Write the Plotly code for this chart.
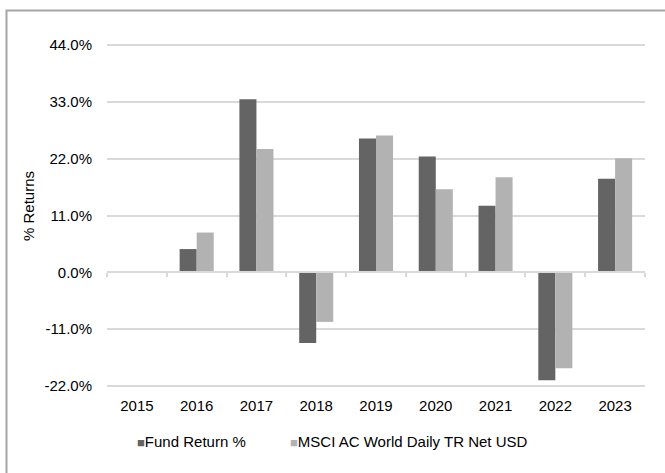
import plotly.graph_objects as go

years = ["2015", "2016", "2017", "2018", "2019", "2020", "2021", "2022", "2023"]
fund_returns = [None, 4.5, 33.5, -13.7, 25.9, 22.4, 12.9, -20.9, 18.1]
msci_returns = [None, 7.7, 23.9, -9.6, 26.5, 16.1, 18.4, -18.6, 22.1]
series_names = ["Fund Return %", "MSCI AC World Daily TR Net USD"]
series_colors = ["#646464", "#b2b2b2"]
y_ticks = [-22, -11, 0, 11, 22, 33, 44]
y_tick_labels = ["-22.0%", "-11.0%", "0.0%", "11.0%", "22.0%", "33.0%", "44.0%"]
y_range = [-22.4, 44.4]

FONT = "Liberation Sans, Arial, sans-serif"
fs = 15

# plot area: top 43, height 345 (so 44% sits at y=45 and -22% at y=386)
T, B, L, R = 43, 85, 107, 20
PH = 473 - T - B
PW = 665 - L - R

def px_x(p):
    return (p - L) / PW

def px_y(p):
    return (T + PH - p) / PH

fig = go.Figure()
fig.add_trace(go.Bar(x=years, y=fund_returns, name=series_names[0],
                     marker=dict(color=series_colors[0], line=dict(width=0))))
fig.add_trace(go.Bar(x=years, y=msci_returns, name=series_names[1],
                     marker=dict(color=series_colors[1], line=dict(width=0))))
# helper trace for the category axis drawn at zero
fig.add_trace(go.Scatter(x=years, y=[0] * len(years), xaxis="x2", yaxis="y2", showlegend=False,
                         hoverinfo="skip", mode="markers", marker=dict(opacity=0)))

# outer frame (only top/left visible in the crop)
fig.add_shape(type="rect", xref="paper", yref="paper",
              x0=px_x(6.5), x1=1.3, y0=-0.6, y1=px_y(10.5),
              line=dict(color="#a6a6a6", width=2), fillcolor="rgba(0,0,0,0)", layer="above")

# legend entries (Excel style: small square right before the text)
for xpos, name, col in zip([135, 288], series_names, series_colors):
    fig.add_annotation(xref="paper", yref="paper", x=px_x(xpos), y=px_y(441),
                       xanchor="left", yanchor="middle", showarrow=False,
                       text=f"<span style='color:{col};font-size:13px'>■</span>{name}",
                       font=dict(family=FONT, size=fs, color="#000000"))

# y-axis title
fig.add_annotation(xref="paper", yref="paper", x=px_x(28), y=px_y(206), textangle=-90,
                   xanchor="center", yanchor="middle", showarrow=False,
                   text="% Returns", font=dict(family=FONT, size=fs, color="#000000"))

fig.update_layout(
    width=665, height=473,
    margin=dict(l=L, r=R, t=T, b=B),
    paper_bgcolor="white", plot_bgcolor="white",
    barmode="group", bargap=0.43, bargroupgap=0,
    font=dict(family=FONT, size=fs, color="#000000"),
    showlegend=False,
    xaxis=dict(type="category", showgrid=False, showline=False, zeroline=False,
               ticks="", tickfont=dict(family=FONT, size=fs), ticklabelstandoff=7,
               range=[-0.5, 8.5]),
    xaxis2=dict(type="category", overlaying="x", anchor="free",
                position=(0 - y_range[0]) / (y_range[1] - y_range[0]), side="bottom",
                showline=True, linecolor="#d9d9d9", linewidth=2,
                ticks="outside", tickson="boundaries", ticklen=4, tickcolor="#d9d9d9",
                tickwidth=1.5, showticklabels=False, showgrid=False, zeroline=False,
                range=[-0.5, 8.5]),
    yaxis=dict(range=y_range, tickvals=y_ticks, ticktext=y_tick_labels,
               showgrid=True, gridcolor="#d9d9d9", gridwidth=2,
               zeroline=False, showline=False, ticks="", ticklabelstandoff=14,
               tickfont=dict(family=FONT, size=fs)),
    yaxis2=dict(overlaying="y", range=y_range, visible=False, showgrid=False, zeroline=False),
)

fig.write_html("out.html", config={"displayModeBar": False},
               post_script="document.body.style.margin='0';")
